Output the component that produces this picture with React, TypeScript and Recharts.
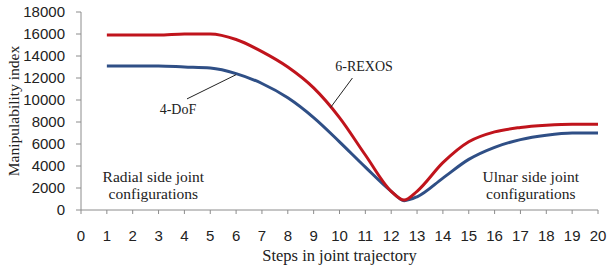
import React from 'react';
import {
  LineChart,
  Line,
  XAxis,
  YAxis,
  ReferenceLine,
  ReferenceDot,
  Label,
} from 'recharts';

const steps = [1, 2, 3, 4, 5, 6, 7, 8, 9, 10, 11, 12, 12.5, 13, 14, 15, 16, 17, 18, 19, 20];
const rexos = [15900, 15900, 15900, 16000, 16000, 15500, 14400, 13000, 11100, 8400, 5000, 1700, 900, 1700, 4300, 6200, 7100, 7500, 7700, 7800, 7800];
const dof4 = [13100, 13100, 13100, 13000, 12900, 12400, 11500, 10200, 8400, 6200, 3900, 1700, 850, 1200, 2900, 4600, 5700, 6400, 6800, 7000, 7000];

const xTicks = [0, 1, 2, 3, 4, 5, 6, 7, 8, 9, 10, 11, 12, 13, 14, 15, 16, 17, 18, 19, 20];
const yTicks = [0, 2000, 4000, 6000, 8000, 10000, 12000, 14000, 16000, 18000];

const data = steps.map((s, i) => ({ step: s, rexos: rexos[i], dof4: dof4[i] }));

const SERIF = '"Liberation Serif", "DejaVu Serif", serif';
const TICKFONT = '"Liberation Sans Narrow", "Liberation Sans", sans-serif';
const AXIS = '#8c8c8c';
const RED = '#c0141c';
const BLUE = '#2f4f86';

function Note({ viewBox, lines, size }: any) {
  if (!viewBox) return null;
  const { x, y } = viewBox;
  return (
    <text x={x} y={y} textAnchor="middle" fontFamily={SERIF} fontSize={size} fill="#222">
      {lines.map((l: string, i: number) => (
        <tspan key={i} x={x} dy={i === 0 ? 0 : 17}>{l}</tspan>
      ))}
    </text>
  );
}

export default function App() {
  return (
    <div style={{ position: 'absolute', top: 0, left: 0, background: '#fff' }}>
      <LineChart width={608} height={273} data={data} margin={{ top: 12, right: 10, bottom: 8, left: 21 }}>
        <XAxis
          dataKey="step"
          type="number"
          domain={[0, 20]}
          ticks={xTicks}
          interval={0}
          stroke={AXIS}
          tickSize={4}
          tickMargin={16}
          height={55}
          tick={{ fill: '#222', fontFamily: TICKFONT, fontSize: 15 }}
        >
          <Label value="Steps in joint trajectory" position="insideBottom" offset={4} style={{ fill: '#222', fontFamily: SERIF, fontSize: 16.5 }} />
        </XAxis>
        <YAxis
          domain={[0, 18000]}
          ticks={yTicks}
          interval={0}
          stroke={AXIS}
          tickSize={5}
          tickMargin={11}
          width={60}
          tick={{ fill: '#222', fontFamily: TICKFONT, fontSize: 15 }}
        >
          <Label value="Manipulability index" angle={-90} position="insideLeft" offset={-8} style={{ textAnchor: 'middle', fill: '#222', fontFamily: SERIF, fontSize: 15.5 }} />
        </YAxis>
        <Line type="monotone" dataKey="dof4" stroke={BLUE} strokeWidth={3} dot={false} isAnimationActive={false} />
        <Line type="monotone" dataKey="rexos" stroke={RED} strokeWidth={3} dot={false} isAnimationActive={false} />
        <ReferenceLine segment={[{ x: 10.5, y: 12000 }, { x: 9.65, y: 9300 }]} stroke="#222" strokeWidth={1} />
        <ReferenceLine segment={[{ x: 4.1, y: 10100 }, { x: 6.0, y: 12300 }]} stroke="#222" strokeWidth={1} />
        <ReferenceDot x={10.95} y={12600} r={0} stroke="none">
          <Label content={(p: any) => <Note {...p} size={14} lines={['6-REXOS']} />} />
        </ReferenceDot>
        <ReferenceDot x={3.75} y={8700} r={0} stroke="none">
          <Label content={(p: any) => <Note {...p} size={14} lines={['4-DoF']} />} />
        </ReferenceDot>
        <ReferenceDot x={2.8} y={2550} r={0} stroke="none">
          <Label content={(p: any) => <Note {...p} size={15.5} lines={['Radial side joint', 'configurations']} />} />
        </ReferenceDot>
        <ReferenceDot x={17.4} y={2550} r={0} stroke="none">
          <Label content={(p: any) => <Note {...p} size={15.5} lines={['Ulnar side joint', 'configurations']} />} />
        </ReferenceDot>
      </LineChart>
    </div>
  );
}
